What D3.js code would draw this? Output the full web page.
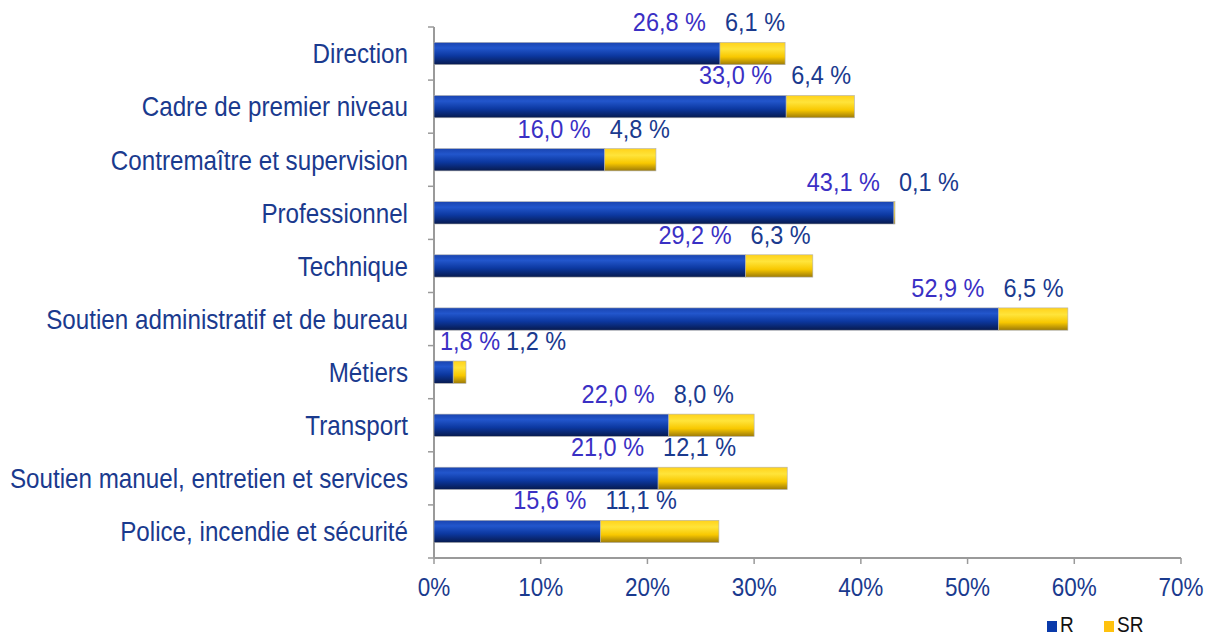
<!DOCTYPE html>
<html>
<head>
<meta charset="utf-8">
<script src="https://cdn.jsdelivr.net/npm/d3@7"></script>
<style>
  body { margin: 0; background: #fff; }
  svg { display: block; font-family: "Liberation Sans", Arial, sans-serif; }
</style>
</head>
<body>
<svg id="chart" width="1211" height="635"></svg>
<script>
// Chart data
const categories = [
  "Direction",
  "Cadre de premier niveau",
  "Contremaître et supervision",
  "Professionnel",
  "Technique",
  "Soutien administratif et de bureau",
  "Métiers",
  "Transport",
  "Soutien manuel, entretien et services",
  "Police, incendie et sécurité"
];
const rValues = [26.8, 33.0, 16.0, 43.1, 29.2, 52.9, 1.8, 22.0, 21.0, 15.6];
const srValues = [6.1, 6.4, 4.8, 0.1, 6.3, 6.5, 1.2, 8.0, 12.1, 11.1];
const xTicks = [0, 10, 20, 30, 40, 50, 60, 70];
const seriesNames = ["R", "SR"];

const svg = d3.select("#chart");
const margin = { left: 434, right: 30, top: 27, bottom: 77 };

const x = d3.scaleLinear().domain([0, 70]).range([margin.left, 1181]);
const y = d3
  .scaleBand()
  .domain(categories)
  .range([margin.top, 558])
  .paddingInner(0.58)
  .paddingOuter(0.29);

const fmt = (v) => v.toFixed(1).replace(".", ",") + " %";

// text in the original is slightly stretched vertically
const stretch = 1.12;
function place(px, py) {
  return `translate(${px},${py}) scale(1,${stretch})`;
}

// Gradients
const defs = svg.append("defs");
function addGradient(id, stops) {
  const g = defs
    .append("linearGradient")
    .attr("id", id)
    .attr("x1", 0)
    .attr("y1", 0)
    .attr("x2", 0)
    .attr("y2", 1);
  stops.forEach((s) => {
    g.append("stop").attr("offset", s[0]).attr("stop-color", s[1]);
  });
}
addGradient("gradR", [
  [0, "#1a44b0"],
  [0.25, "#2256cc"],
  [0.6, "#0c38a0"],
  [1, "#071a4e"]
]);
addGradient("gradSR", [
  [0, "#ffd21a"],
  [0.3, "#ffe43a"],
  [0.65, "#f8c800"],
  [1, "#9c7a08"]
]);

// Axes lines
const axisColor = "#9a9a9a";
svg
  .append("line")
  .attr("x1", x(0))
  .attr("x2", x(0))
  .attr("y1", margin.top)
  .attr("y2", 558)
  .attr("stroke", axisColor)
  .attr("stroke-width", 2);

// category ticks at band boundaries
const step = y.step();
const boundaries = d3.range(categories.length + 1).map((i) => margin.top + i * step);
svg
  .append("g")
  .selectAll("line")
  .data(boundaries)
  .enter()
  .append("line")
  .attr("x1", x(0) - 6)
  .attr("x2", x(0))
  .attr("y1", (d) => d)
  .attr("y2", (d) => d)
  .attr("stroke", axisColor)
  .attr("stroke-width", 1.5);

svg
  .append("line")
  .attr("x1", x(0))
  .attr("x2", x(70))
  .attr("y1", 558)
  .attr("y2", 558)
  .attr("stroke", axisColor)
  .attr("stroke-width", 2);

const xt = svg.append("g");
xt.selectAll("line")
  .data(xTicks)
  .enter()
  .append("line")
  .attr("x1", (d) => x(d))
  .attr("x2", (d) => x(d))
  .attr("y1", 558)
  .attr("y2", 564)
  .attr("stroke", axisColor)
  .attr("stroke-width", 1.5);
xt.selectAll("text")
  .data(xTicks)
  .enter()
  .append("text")
  .attr("transform", (d) => place(x(d), 596))
  .attr("text-anchor", "middle")
  .attr("font-size", 22.5)
  .attr("fill", "#1a3a8e")
  .text((d) => d + "%");

// Category labels
svg
  .append("g")
  .selectAll("text")
  .data(categories)
  .enter()
  .append("text")
  .attr("transform", (d) => place(408, y(d) + y.bandwidth() / 2 + 9.8))
  .attr("text-anchor", "end")
  .attr("font-size", 24.2)
  .attr("fill", "#1a3a8e")
  .text((d) => d);

// Bars
const bars = svg
  .append("g")
  .selectAll("g")
  .data(categories)
  .enter()
  .append("g");

bars
  .append("rect")
  .attr("x", x(0))
  .attr("y", (d) => y(d))
  .attr("width", (d, i) => x(rValues[i]) - x(0))
  .attr("height", y.bandwidth())
  .attr("fill", "url(#gradR)")
  .attr("stroke", "#b0b0b0")
  .attr("stroke-width", 0.6);

bars
  .append("rect")
  .attr("x", (d, i) => x(rValues[i]))
  .attr("y", (d) => y(d))
  .attr("width", (d, i) => x(rValues[i] + srValues[i]) - x(rValues[i]))
  .attr("height", y.bandwidth())
  .attr("fill", "url(#gradSR)")
  .attr("stroke", "#b0b0b0")
  .attr("stroke-width", 0.6);

// Data labels
categories.forEach((c, i) => {
  const blueEnd = x(rValues[i]);
  const ty = y(c) - 11;
  const rText = svg
    .append("text")
    .attr("font-size", 23.5)
    .attr("fill", "#3a30c4")
    .text(fmt(rValues[i]));
  const w = rText.node().getComputedTextLength();
  const rStart = Math.max(blueEnd - 14 - w, x(0) + 6);
  rText.attr("transform", place(rStart, ty));
  const srStart = Math.max(blueEnd + 5, rStart + w + 6);
  svg
    .append("text")
    .attr("transform", place(srStart, ty))
    .attr("font-size", 23.5)
    .attr("fill", "#1a3a8e")
    .text(fmt(srValues[i]));
});

// Legend
const legendColors = ["#0a3aaa", "#ffc20e"];
const legendX = [1047, 1104];
const legend = svg
  .append("g")
  .selectAll("g")
  .data(seriesNames)
  .enter()
  .append("g")
  .attr("transform", (d, i) => `translate(${legendX[i]},621)`);
legend
  .append("rect")
  .attr("width", 10)
  .attr("height", 11)
  .attr("fill", (d, i) => legendColors[i]);
legend
  .append("text")
  .attr("transform", place(13, 11))
  .attr("font-size", 19)
  .attr("fill", "#111")
  .text((d) => d);
</script>
</body>
</html>
